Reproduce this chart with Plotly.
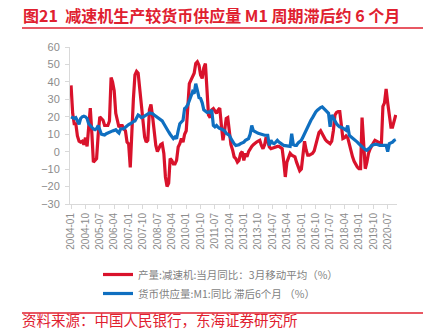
import pandas as pd
import plotly.graph_objects as go

# Monthly data, 2004-01 .. 2020-12 (one row per year)
reducer_output_3mma = [
    38, 22, 16, 16, 9, 6, 5.5, 6, 4, 8, 3, 15,
    25, 10, -6, -5, -4, 10, 20, 19, 18, 15, 15, 15,
    17.6, 42.5, 40, 35, 22, 17, 14, 15, 15, 13, 12, 5.5,
    4.5, -9, 15, 30, 44, 46, 45, 35, 28, 18, 8.5, 5.5,
    6.5, 24, 27, 20, 10, 3.6, 0, 2, 4, 4.6, -1, -14.5,
    -20, -18, -4, -5, -7, -7, -5, 2.7, 4.6, 7.5, 5.5, 10,
    12, 26, 39, 41, 43, 45, 50.5, 51.5, 49.6, 44, 42, 48,
    50.5, 31, 21, 19.5, 24, 24.7, 23, 22, 24, 25, 15, 6.5,
    12, 19, 19.5, 12, 4, 1, -3, -4, -6, -5, -1, 0,
    -5, -1, -3, 0, 2, 3, 4, 5, 5.5, 6, 6.5, 3.6,
    1.7, 4, 8.4, 6, 2.7, 1.7, 2, 2.7, 3, 3, 3, 2.5,
    1.7, -6, -14.5, -6, -3, -1, -2, -2.5, -3, -6, -9, -11,
    -10, -2, 6, 1, -2, -2, -1.5, -1, 0.5, 3.6, 7.5, 11,
    12, 10, 8.4, 7, 6, 5, 4.6, 6, 12, 21, 22.5, 23,
    23, 15, 7.5, 8, 9, 8, 4, 1, -3, -5.5, -7.5, -8.8,
    -9.8, -9.8, 19.5, 5, -9.8, -6, -1, 1.5, 3.6, 5, 6.5, 6,
    5.5, 5, 3, 26, 28, 36, 28, 19, 14, 14, 17, 21,
]
m1_yoy_lag6 = [
    20, 19.5, 19, 19.5, 18, 15.7, 19, 20, 20.3, 20, 19, 16,
    15, 13.8, 13, 12.6, 13.2, 15, 12, 10, 9.8, 9.6, 10.3, 10.8,
    11.3, 11.6, 11.9, 12.2, 12.6, 11.5, 10.7, 13, 13.2, 13.2, 14, 15,
    15.5, 16, 16.8, 17.2, 17.6, 19.5, 21, 20.5, 19.5, 19.8, 20.3, 21,
    21.5, 22.2, 22, 21.8, 21, 20.3, 19.5, 19, 18, 17.6, 16, 14.2,
    12.5, 11.3, 10, 8.4, 7.5, 8.4, 7.5, 12, 16, 17, 18, 24.7,
    25.5, 27, 29.5, 32.4, 34.3, 33.3, 39, 35.2, 31, 30.5, 28, 24,
    23, 22.5, 22.8, 22.5, 24, 15, 14.2, 15, 14, 13.2, 13, 12.3,
    12, 10.5, 10, 9.4, 7.5, 5.5, 4.5, 3.6, 3.6, 4, 4.6, 5,
    5.5, 6.5, 7, 7.5, 10, 15, 12, 11.3, 11, 10.5, 10.3, 10,
    9.4, 9.4, 9.4, 9.4, 3.6, 6.5, 5, 4.6, 5.5, 6.5, 5.5, 4.6,
    4.2, 3.6, 3.4, 3.2, 3, 3, 10.3, 4, 3.6, 3.6, 5, 6,
    6.5, 8.4, 10.3, 13, 15, 16.5, 18, 19.5, 21.5, 22.8, 23.8, 24.7,
    25.3, 25.7, 25, 24.1, 23, 22, 14.2, 21, 19, 17, 16, 15,
    14.2, 14, 13.5, 13, 12.3, 15, 9.4, 8.5, 7.8, 7, 6.5, 5.5,
    4.5, 3.6, 2.7, 2, 1.2, 0.8, 1.5, 2.5, 3.6, 4, 4.2, 4.2,
    3.8, 3.6, 3.6, 3.8, 3.6, 3.6, 0, 4.6, 5, 5.5, 6.5, 6.9,
]
months = pd.date_range("2004-01-01", periods=len(reducer_output_3mma), freq="MS")

tick_labels = ["2004-01", "2004-10", "2005-07", "2006-04", "2007-01", "2007-10",
               "2008-07", "2009-04", "2010-01", "2010-10", "2011-07", "2012-04",
               "2013-01", "2013-10", "2014-07", "2015-04", "2016-01", "2016-10",
               "2017-07", "2018-04", "2019-01", "2019-10", "2020-07"]
y_ticks = [60, 50, 40, 30, 20, 10, 0, -10, -20, -30]

name_red = "产量:减速机:当月同比：3月移动平均（%）"
name_blue = "货币供应量:M1:同比 滞后6个月 （%）"
title_text = "图21  减速机生产较货币供应量 M1 周期滞后约 6 个月"
source_text = "资料来源：中国人民银行，东海证券研究所"

RED = "#D9122B"
BLUE = "#0F6FC0"
TITLE_RED = "#E0202F"
GRAY = "#8C8C8C"
CJK = "Noto Sans CJK SC"

fig = go.Figure()
fig.add_trace(go.Scatter(x=months, y=reducer_output_3mma, mode="lines", name=name_red,
                         line=dict(color=RED, width=3.2)))
fig.add_trace(go.Scatter(x=months, y=m1_yoy_lag6, mode="lines", name=name_blue,
                         line=dict(color=BLUE, width=3.2)))

fig.update_layout(
    width=436, height=330,
    margin=dict(l=70, r=39, t=47, b=126, autoexpand=False),
    paper_bgcolor="white", plot_bgcolor="white",
    font=dict(family=CJK, color=GRAY, size=11),
    showlegend=True,
    legend=dict(
        orientation="v", xref="container", yref="container",
        x=98 / 436, y=1 - 260 / 330, xanchor="left", yanchor="top",
        font=dict(family=CJK, size=10.5, color="#7F7F7F"),
        traceorder="normal", bgcolor="rgba(0,0,0,0)", borderwidth=0,
    ),
    xaxis=dict(
        type="date",
        range=["2003-12-12", "2020-12-25"],
        tickvals=[pd.Timestamp(t + "-01") for t in tick_labels],
        ticktext=tick_labels,
        tickangle=-90,
        showgrid=False, zeroline=False,
        showline=True, linecolor="#D9D9D9", linewidth=1,
        ticks="outside", ticklen=4, tickcolor="#D9D9D9",
        tickfont=dict(family="Liberation Sans", size=10, color=GRAY),
        automargin=False,
    ),
    yaxis=dict(
        range=[-30, 60],
        tickvals=y_ticks,
        showgrid=False, zeroline=False,
        showline=True, linecolor="#D9D9D9", linewidth=1,
        ticks="outside", ticklen=4, tickcolor="#D9D9D9",
        tickfont=dict(family="Liberation Sans", size=11, color=GRAY),
        ticklabelstandoff=3,
        automargin=False,
    ),
)

# Title, rules and source
fig.add_annotation(xref="paper", yref="paper", x=-49 / 327, y=1 + 32 / 157,
                   xanchor="left", yanchor="middle", showarrow=False,
                   text="<b>" + title_text + "</b>",
                   font=dict(family=CJK, size=16, color=TITLE_RED))
fig.add_shape(type="line", xref="paper", yref="paper",
              x0=-48 / 327, x1=353 / 327, y0=1 + 19 / 157, y1=1 + 19 / 157,
              line=dict(color=TITLE_RED, width=1.5))
fig.add_shape(type="line", xref="paper", yref="paper",
              x0=-48 / 327, x1=353 / 327, y0=-109 / 157, y1=-109 / 157,
              line=dict(color=TITLE_RED, width=1.5))
fig.add_annotation(xref="paper", yref="paper", x=-49 / 327, y=-115.5 / 157,
                   xanchor="left", yanchor="middle", showarrow=False,
                   text=source_text, borderpad=0,
                   font=dict(family=CJK, size=14.5, color=TITLE_RED))

fig.write_html("out.html")
